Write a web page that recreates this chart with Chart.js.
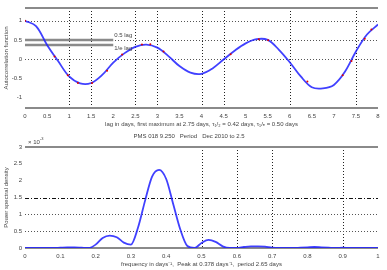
<!DOCTYPE html>
<html><head><meta charset="utf-8">
<script src="https://cdn.jsdelivr.net/npm/chart.js@4.4.1/dist/chart.umd.min.js"></script>
<style>
html,body{margin:0;padding:0;background:#fff;}
#wrap{position:relative;width:387px;height:270px;overflow:hidden;}
canvas{position:absolute;left:0;}
#c1{top:0;}
#c2{top:130px;}
</style></head><body>
<div id="wrap">
<canvas id="c1" width="387" height="130"></canvas>
<canvas id="c2" width="387" height="140"></canvas>
</div>
<script>
// ---- top panel: autocorrelation ----
const lagDays = [0,0.25,0.5,0.75,1,1.25,1.5,1.75,2,2.25,2.5,2.75,3,3.25,3.5,3.75,4,4.25,4.5,4.75,5,5.25,5.5,5.75,6,6.25,6.5,6.75,7,7.25,7.5,7.75,8];
const acfValues = [1.0,0.86,0.37,-0.05,-0.45,-0.63,-0.62,-0.41,-0.09,0.15,0.32,0.38,0.30,0.08,-0.18,-0.35,-0.38,-0.24,-0.01,0.22,0.41,0.52,0.50,0.25,-0.08,-0.45,-0.73,-0.76,-0.67,-0.33,0.20,0.64,0.90];
const acfSampleLags = [0,0.67,0.97,1.2,1.52,1.86,2.2,2.65,2.84,3.14,4.66,5.3,5.51,6.4,7.2,7.4,7.7,7.85];
const acfSampleValues = [1.0,0.07,-0.42,-0.62,-0.62,-0.3,0.12,0.38,0.39,0.2,0.13,0.52,0.49,-0.58,-0.42,-0.05,0.53,0.77];
const lagTicks = [0,0.5,1,1.5,2,2.5,3,3.5,4,4.5,5,5.5,6,6.5,7,7.5,8];
const acfTicks = [-1,-0.5,0,0.5,1];
const acfGridX = [1,1.5,2.5,3,4,4.5,6,7.5];
const acfGridY = [0,0.5,1];
const halfLevel = 0.5;
const eLevel = 1/Math.E;
const levelLagEnd = 2;
const levelLabels = ['0.5 lag','1/e lag'];

// ---- bottom panel: power spectrum ----
const freqs = [0,0.02,0.04,0.06,0.08,0.1,0.12,0.14,0.16,0.18,0.2,0.22,0.24,0.26,0.28,0.3,0.32,0.34,0.36,0.38,0.4,0.42,0.44,0.46,0.48,0.5,0.52,0.54,0.56,0.58,0.6,0.62,0.64,0.66,0.68,0.7,0.72,0.74,0.76,0.78,0.8,0.82,0.84,0.86,0.88,0.9,0.92,0.94,0.96,0.98,1.0];
const psdValues = [0,0,0,0,0,0.01,0.02,0.02,0.01,0,0.1,0.3,0.37,0.32,0.16,0.1,0.6,1.4,2.12,2.32,2.05,1.3,0.55,0.06,0,0.15,0.24,0.18,0.05,0,0,0.03,0.05,0.05,0.04,0.01,0,0,0,0.01,0.02,0.03,0.02,0.01,0,0.01,0,0,0,0,0];
const freqTicks = [0,0.1,0.2,0.3,0.4,0.5,0.6,0.7,0.8,0.9,1];
const psdTicks = [0,0.5,1,1.5,2,2.5,3];
const psdGridX = [0.5,0.6,0.7,0.9];
const psdGridY = [0.5,1];
const psdDashDotY = [1.5];

const FONT = 'Liberation Sans, Arial, sans-serif';
const TXT = '#444';
const fmt = v => String(Math.round(v*1000)/1000);

const frame = {
  id:'frame',
  beforeDatasetsDraw(chart, args, o){
    const {ctx, chartArea:a, scales:{x,y}} = chart;
    ctx.save();
    ctx.strokeStyle = '#222'; ctx.lineWidth = 1; ctx.setLineDash([1,2]);
    (o.v||[]).forEach(v=>{const p=Math.round(x.getPixelForValue(v))+0.5;ctx.beginPath();ctx.moveTo(p,a.top);ctx.lineTo(p,a.bottom);ctx.stroke();});
    ctx.strokeStyle = '#555';
    (o.h||[]).forEach(v=>{const p=Math.round(y.getPixelForValue(v))+0.5;ctx.beginPath();ctx.moveTo(a.left,p);ctx.lineTo(a.right,p);ctx.stroke();});
    ctx.strokeStyle = '#111'; ctx.setLineDash([4,2,1,2]);
    (o.hd||[]).forEach(v=>{const p=Math.round(y.getPixelForValue(v))+0.5;ctx.beginPath();ctx.moveTo(a.left,p);ctx.lineTo(a.right,p);ctx.stroke();});
    ctx.setLineDash([]);
    ctx.strokeStyle = '#8a8a8a'; ctx.lineWidth = 2;
    ctx.beginPath();ctx.moveTo(a.left,a.top);ctx.lineTo(a.right,a.top);ctx.stroke();
    ctx.beginPath();ctx.moveTo(a.left,a.bottom);ctx.lineTo(a.right,a.bottom);ctx.stroke();
    ctx.restore();
  },
  afterDatasetsDraw(chart, args, o){
    const {ctx, chartArea:a, scales:{x,y}} = chart;
    ctx.save();
    ctx.fillStyle = TXT; ctx.font = '6px '+FONT; ctx.textBaseline='middle';
    (o.labels||[]).forEach(l=>{ctx.fillText(l.text, x.getPixelForValue(l.x)+1, y.getPixelForValue(l.y)+l.dy);});
    if(o.exp){ctx.fillText('× 10', a.left+3, a.top-5); ctx.font='4px '+FONT; ctx.fillText('-3', a.left+15, a.top-8);}
    ctx.restore();
  }
};

function axisX(ticks, min, max, title){
  return {type:'linear', min, max,
    afterBuildTicks:s=>{s.ticks=ticks.map(v=>({value:v}));},
    afterFit:s=>{s.height=22;},
    grid:{display:false, drawTicks:false}, border:{display:false},
    ticks:{font:{size:6,family:FONT}, color:TXT, padding:5, maxRotation:0, autoSkip:false, callback:fmt},
    title:{display:true, text:title, font:{size:6,family:FONT}, color:TXT, padding:{top:0,bottom:2}}};
}
function axisY(ticks, min, max, title){
  return {type:'linear', min, max,
    afterBuildTicks:s=>{s.ticks=ticks.map(v=>({value:v}));},
    afterFit:s=>{s.width=25;},
    grid:{display:false, drawTicks:false}, border:{display:false},
    ticks:{font:{size:6,family:FONT}, color:TXT, padding:3, autoSkip:false, callback:fmt},
    title:{display:true, text:title, font:{size:6,family:FONT}, color:TXT, padding:{top:3,bottom:0}}};
}

new Chart(document.getElementById('c1'), {
  type:'line',
  data:{datasets:[
    {data:[{x:0,y:halfLevel},{x:levelLagEnd,y:halfLevel}], borderColor:'#8a8a8a', borderWidth:2.5, pointRadius:0, order:3},
    {data:[{x:0,y:eLevel},{x:levelLagEnd,y:eLevel}], borderColor:'#8a8a8a', borderWidth:2.5, pointRadius:0, order:3},
    {data:lagDays.map((t,i)=>({x:t,y:acfValues[i]})), borderColor:'rgba(30,30,255,0.85)', borderWidth:1.8, pointRadius:0, tension:0.35, order:2},
    {data:acfSampleLags.map((t,i)=>({x:t,y:acfSampleValues[i]})), showLine:false, pointRadius:1, pointBorderWidth:0, backgroundColor:'#e00000', order:1}
  ]},
  options:{responsive:false, animation:false, events:[],
    layout:{autoPadding:false, padding:{left:0,right:9,top:8,bottom:0}},
    plugins:{legend:{display:false}, tooltip:{enabled:false},
      frame:{v:acfGridX, h:acfGridY, labels:[{text:levelLabels[0],x:levelLagEnd,y:halfLevel,dy:-5},{text:levelLabels[1],x:levelLagEnd,y:eLevel,dy:3}]}},
    scales:{
      x:axisX(lagTicks,0,8,'lag in days, first maximum at 2.75 days, τ₁/₂ = 0.42 days, τ₁/ₑ = 0.50 days'),
      y:axisY(acfTicks,-1.27,1.33,'Autocorrelation function')
    }},
  plugins:[frame]
});

new Chart(document.getElementById('c2'), {
  type:'line',
  data:{datasets:[
    {data:freqs.map((f,i)=>({x:f,y:psdValues[i]})), borderColor:'rgba(30,30,255,0.85)', borderWidth:1.8, pointRadius:0, cubicInterpolationMode:'monotone'}
  ]},
  options:{responsive:false, animation:false, events:[],
    layout:{autoPadding:false, padding:{left:0,right:9,top:0,bottom:0}},
    plugins:{legend:{display:false}, tooltip:{enabled:false},
      title:{display:true, text:'PMS 018 9.250   Period   Dec 2010 to 2.5', font:{size:6,family:FONT,weight:'normal'}, color:TXT, padding:{top:3,bottom:6.8}},
      frame:{v:psdGridX, h:psdGridY, hd:psdDashDotY, exp:true}},
    scales:{
      x:axisX(freqTicks,0,1,'frequency in days⁻¹,  Peak at 0.378 days⁻¹,  period 2.65 days'),
      y:axisY(psdTicks,0,3,'Power spectral density')
    }},
  plugins:[frame]
});
</script>
</body></html>
